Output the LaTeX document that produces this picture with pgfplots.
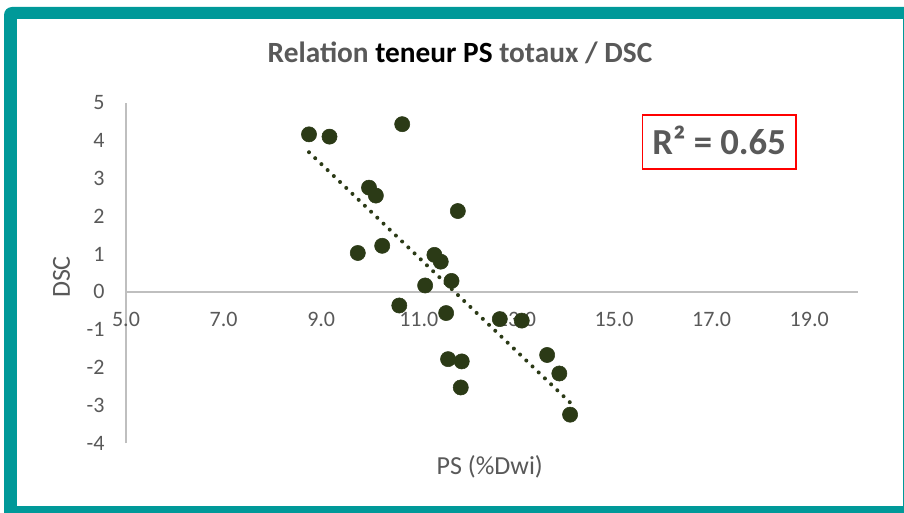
\documentclass[border=0pt]{standalone}
\usepackage{pgfplots}
\pgfplotsset{compat=1.18}
\usepackage{pgfplotstable}
\usepackage{fontspec}
\setmainfont{Carlito}

\definecolor{framecol}{HTML}{009999}
\definecolor{markcol}{HTML}{2B3A16}
\definecolor{textgray}{HTML}{595959}
\definecolor{axisgray}{HTML}{BFBFBF}

% PS (%Dwi) vs DSC, sorted by x
\pgfplotstableread{
x y
8.75 4.17
9.17 4.11
9.75 1.03
9.98 2.76
10.12 2.55
10.25 1.22
10.60 -0.36
10.66 4.44
11.13 0.17
11.32 0.98
11.45 0.80
11.56 -0.56
11.60 -1.78
11.67 0.29
11.80 2.14
11.86 -2.53
11.88 -1.84
12.66 -0.72
13.11 -0.76
13.63 -1.67
13.88 -2.16
14.10 -3.25
}\psdata

\begin{document}
\begin{tikzpicture}
\useasboundingbox (0,0) rectangle (678pt,-384.75pt);
\fill[white] (0,0) rectangle (678pt,-384.75pt);
\fill[framecol, rounded corners=6pt] (3pt,-5.25pt) rectangle (690pt,-395pt);
\fill[white] (12.5pt,-14.5pt) rectangle (676.9pt,-379.7pt);

\begin{axis}[
    scale only axis,
    width=549pt, height=255pt,
    at={(94.5pt,-332.25pt)}, anchor=south west,
    xmin=5, xmax=20, ymin=-4, ymax=5,
    axis x line*=middle, axis y line*=left,
    axis line style={draw=axisgray, line width=1pt},
    xtick={5,7,...,19}, ytick={-4,-3,...,5},
    major tick length=0pt,
    hide obscured x ticks=false, hide obscured y ticks=false,
    tick label style={font=\fontsize{16.5}{19}\selectfont, text=textgray},
    /pgf/number format/assume math mode=true,
    x tick label style={/pgf/number format/.cd, fixed, fixed zerofill, precision=1, /tikz/.cd, yshift=-11.75pt},
    y tick label style={xshift=-12.5pt},
    xlabel={PS (\%Dwi)},
    ylabel={DSC},
    xlabel style={at={(axis description cs:0.497,-0.0912)}, anchor=base, font=\fontsize{19.5}{22}\selectfont, text=textgray},
    ylabel style={at={(axis description cs:-0.0881,0.488)}, anchor=center, font=\fontsize{19.5}{22}\selectfont, text=textgray},
    clip=false,
]
    \addplot[only marks, mark=*, mark size=5.7pt, mark options={draw=markcol, fill=markcol}]
        table[x=x, y=y] {\psdata};
    % linear trendline
    \addplot[markcol, no marks, line width=3pt, line cap=round, dash pattern=on 0pt off 6.45pt]
        table[x=x, y={create col/linear regression={y=y}}] {\psdata};
\end{axis}

\node[anchor=base, text=textgray, font=\fontsize{22}{26}\selectfont\bfseries]
    at (345pt,-47pt) {Relation \textcolor{black}{teneur PS} totaux / DSC};
\draw[red, line width=1.2pt] (482pt,-86.25pt) rectangle (596.8pt,-126.75pt);
\node[anchor=base, text=textgray, font=\fontsize{27.5}{32}\selectfont\bfseries]
    at (539.4pt,-116.25pt) {R² = 0.65};
\end{tikzpicture}
\end{document}
